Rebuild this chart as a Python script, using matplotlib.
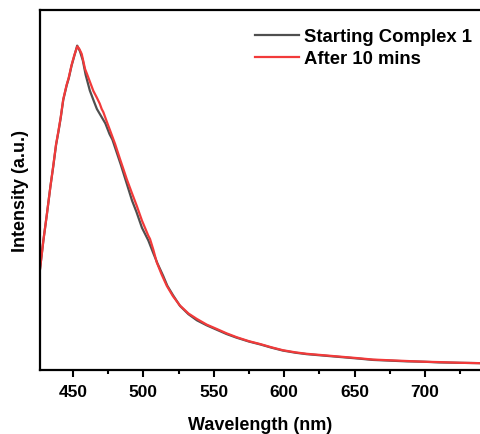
import matplotlib
matplotlib.use("Agg")
import matplotlib.pyplot as plt
from matplotlib.ticker import MultipleLocator

plt.rcParams['font.family'] = ['Liberation Sans', 'DejaVu Sans']
plt.rcParams['font.weight'] = 'bold'

# Emission spectra (wavelength in nm, normalised intensity)
wl_start = [426.6, 429, 431.4, 434, 436, 438, 439.6, 441.3, 443.1, 445.5, 447, 449, 451,
            453, 455, 457, 459, 462, 465, 467, 470, 473, 476, 478, 481,
            484, 488, 492, 495, 499, 503.5, 507, 510, 514, 517, 521, 526,
            532, 538, 545, 552, 559, 566, 575, 583, 591, 599, 608, 616, 628,
            640, 652, 663, 675, 687, 699, 710, 725, 739]
int_start = [0.28, 0.36, 0.43, 0.51, 0.565, 0.625, 0.66, 0.70, 0.75, 0.79, 0.81, 0.845, 0.873,
             0.901, 0.885, 0.86, 0.82, 0.776, 0.745, 0.725, 0.705, 0.685, 0.655, 0.64, 0.605,
             0.57, 0.52, 0.47, 0.44, 0.395, 0.36, 0.325, 0.296, 0.262, 0.234, 0.208, 0.178,
             0.155, 0.138, 0.124, 0.112, 0.1, 0.09, 0.079, 0.071, 0.062, 0.054, 0.048, 0.044, 0.04,
             0.036, 0.032, 0.028, 0.026, 0.024, 0.023, 0.021, 0.02, 0.019]

wl_after = [426.6, 429, 431.4, 434, 436, 438, 439.6, 441.3, 443.1, 445.5, 447, 449, 451,
            453.1, 454.5, 456.2, 458.6, 460, 462.1, 464.5, 466.9, 469, 470.4, 471.6, 474,
            476.3, 479.9, 483.4, 486, 488.2, 492, 495.3, 499, 503.5, 504.7, 507, 509.5,
            513, 516.6, 521, 526, 532, 537.9, 545, 552.1, 559, 566.3, 575, 583, 591,
            599, 608, 616, 628, 640, 652, 663, 675, 687, 699, 710, 725, 739]
int_after = [0.28, 0.36, 0.43, 0.51, 0.567, 0.627, 0.662, 0.702, 0.752, 0.792, 0.812, 0.847, 0.875,
             0.899, 0.892, 0.878, 0.836, 0.822, 0.80, 0.775, 0.757, 0.74, 0.725, 0.716, 0.69,
             0.666, 0.628, 0.586, 0.556, 0.53, 0.49, 0.456, 0.415, 0.373, 0.364, 0.335, 0.299,
             0.265, 0.234, 0.205, 0.179, 0.157, 0.142, 0.126, 0.114, 0.102, 0.091, 0.08, 0.072, 0.063,
             0.055, 0.049, 0.045, 0.041, 0.037, 0.033, 0.029, 0.027, 0.025, 0.023, 0.022, 0.02, 0.019]

labels = ["Starting Complex 1", "After 10 mins"]
colors = ["#4f4f4f", "#f23a3a"]

fig = plt.figure(figsize=(4.8, 4.35), dpi=100)
ax = fig.add_axes([40 / 480, 1 - 371 / 435, 1 - 40 / 480, 360 / 435])

ax.plot(wl_start, int_start, color=colors[0], lw=1.6, label=labels[0])
ax.plot(wl_after, int_after, color=colors[1], lw=1.6, label=labels[1])

ax.set_xlim(426.6, 739)
ax.set_ylim(0, 1)
ax.set_yticks([])
ax.xaxis.set_major_locator(MultipleLocator(50))
ax.xaxis.set_minor_locator(MultipleLocator(25))
ax.tick_params(axis='x', which='major', length=5, width=1.5, labelsize=12.5, pad=5)
ax.tick_params(axis='x', which='minor', length=3, width=1.5)
for lab in ax.get_xticklabels():
    lab.set_fontweight('bold')

for side in ['left', 'top', 'bottom']:
    ax.spines[side].set_linewidth(1.6)
ax.spines['right'].set_visible(False)

ax.set_xlabel("Wavelength (nm)", fontsize=13, fontweight='bold', labelpad=12)
ax.set_ylabel("Intensity (a.u.)", fontsize=13, fontweight='bold', labelpad=8)

leg = ax.legend(loc='upper left', bbox_to_anchor=(0.488, 0.95), frameon=False,
                prop={'size': 13.3, 'weight': 'bold'}, handlelength=2.4,
                handletextpad=0.25, borderpad=0, borderaxespad=0, labelspacing=0.28)

fig.savefig("out.png", dpi=100)
